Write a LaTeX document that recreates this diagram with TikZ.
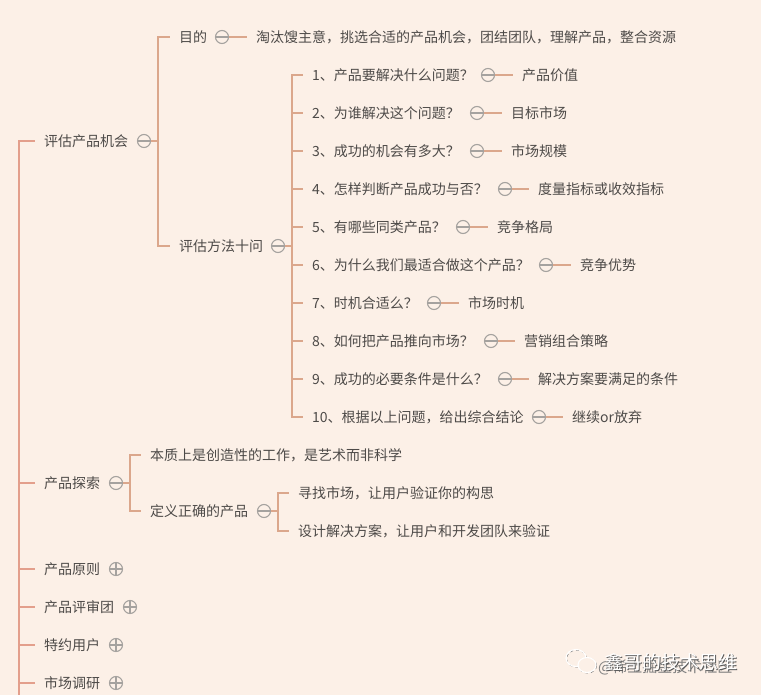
\documentclass[tikz,border=0pt]{standalone}
\usepackage{fontspec}
\usepackage{xcolor}
\setmainfont{Noto Sans CJK SC}
\definecolor{paper}{HTML}{FCF0E7}
\definecolor{inkgray}{HTML}{4D4A48}
\definecolor{togglegray}{HTML}{A5A29F}
\definecolor{rootline}{HTML}{E39F8C}
\definecolor{branchline}{HTML}{DBA78C}
\tikzset{
	topic/.style={anchor=west,inner xsep=9pt,inner ysep=0pt,text=inkgray,font=\fontsize{14}{14}\selectfont},
	minusbtn/.style={draw=togglegray,circle,line width=1.1pt,inner sep=0pt,minimum size=13pt,
		path picture={\draw[togglegray,line width=1.1pt](path picture bounding box.west)--(path picture bounding box.east);}},
	plusbtn/.style={draw=togglegray,circle,line width=1.1pt,inner sep=0pt,minimum size=13pt,
		path picture={\draw[togglegray,line width=1.1pt](path picture bounding box.west)--(path picture bounding box.east);
			\draw[togglegray,line width=1.1pt](path picture bounding box.north)--(path picture bounding box.south);}},
	rootedge/.style={rootline,line width=2pt},
	branchedge/.style={branchline,line width=2pt},
}
\begin{document}
\begin{tikzpicture}[x=1pt,y=-1pt]
	\fill[paper] (0,0) rectangle (761,695);
	\useasboundingbox (0,0) rectangle (761,695);

	% main trunk
	\coordinate (rootfork) at (19,141);
	\coordinate (rootend) at (19,695);
	\node[topic] (evalopp) at (35,141){评估产品机会};
	\node[topic] (explore) at (35,483){产品探索};
	\node[topic] (principle) at (35,569){产品原则};
	\node[topic] (review) at (35,607){产品评审团};
	\node[topic] (special) at (35,645){特约用户};
	\node[topic] (research) at (35,683){市场调研};
	\draw[rootedge] (rootend)--(rootfork)--(evalopp.west);
	\foreach \n in {explore,principle,review,special,research}{
		\draw[rootedge] (rootend |- \n.west)--(\n.west);
	}
	\node[plusbtn] (principlebtn) at (116,569){};
	\node[plusbtn] (reviewbtn) at (130,607){};
	\node[plusbtn] (specialbtn) at (116,645){};
	\node[plusbtn] (researchbtn) at (116,683){};

	% evaluate
	\node[minusbtn] (evaloppbtn) at (144,141){};
	\coordinate (evalfork) at (158,141);
	\node[topic] (goal) at (170,37){目的};
	\node[topic] (method) at (170,246){评估方法十问};
	\draw[branchedge] (evaloppbtn)--(evalfork);
	\draw[branchedge] (evalfork) |- (goal.west);
	\draw[branchedge] (evalfork) |- (method.west);

	\node[minusbtn] (goalbtn) at (222,37){};
	\node[topic] (goaltext) at (247,37){淘汰馊主意，挑选合适的产品机会，团结团队，理解产品，整合资源};
	\draw[branchedge] (goalbtn)--(goaltext.west);

	% ten questions
	\node[minusbtn] (methodbtn) at (278,246){};
	\coordinate (methodfork) at (292,246);
	\draw[branchedge] (methodbtn)--(methodfork);
	\foreach \i/\y/\q/\bx/\ax/\a in {
		1/75/1、产品要解决什么问题？/488/513/产品价值,
		2/113/2、为谁解决这个问题？/477/502/目标市场,
		3/151/3、成功的机会有多大？/477/502/市场规模,
		4/189/4、怎样判断产品成功与否？/505/529/度量指标或收效指标,
		5/227/5、有哪些同类产品？/463/488/竞争格局,
		6/265/6、为什么我们最适合做这个产品？/546/571/竞争优势,
		7/303/7、时机合适么？/434/459/市场时机,
		8/341/8、如何把产品推向市场？/491/515/营销组合策略,
		9/379/9、成功的必要条件是什么？/505/529/解决方案要满足的条件,
		10/417/10、根据以上问题，给出综合结论/539/563/继续or放弃}{
		\node[topic] (ask\i) at (303,\y){\q};
		\node[minusbtn] (askbtn\i) at (\bx,\y){};
		\node[topic] (answer\i) at (\ax,\y){\a};
		\draw[branchedge] (methodfork) |- (ask\i.west);
		\draw[branchedge] (askbtn\i)--(answer\i.west);
	}

	% explore
	\node[minusbtn] (explorebtn) at (116,483){};
	\coordinate (explorefork) at (130,483);
	\node[topic] (nature) at (141,455){本质上是创造性的工作，是艺术而非科学};
	\node[topic] (define) at (141,511){定义正确的产品};
	\draw[branchedge] (explorebtn)--(explorefork);
	\draw[branchedge] (explorefork) |- (nature.west);
	\draw[branchedge] (explorefork) |- (define.west);

	\node[minusbtn] (definebtn) at (264,511){};
	\coordinate (definefork) at (278,511);
	\node[topic] (market) at (289,493){寻找市场，让用户验证你的构思};
	\node[topic] (design) at (289,531){设计解决方案，让用户和开发团队来验证};
	\draw[branchedge] (definebtn)--(definefork);
	\draw[branchedge] (definefork) |- (market.west);
	\draw[branchedge] (definefork) |- (design.west);

	% watermark
	\draw[black!55,line width=0.7pt,dashed,xshift=0.6pt,yshift=-0.6pt] (576,658) ellipse (10pt and 8.5pt);
	\draw[white,line width=1.1pt] (576,658) ellipse (10pt and 8.5pt);
	\draw[black!55,line width=0.7pt,dashed,xshift=0.6pt,yshift=-0.6pt] (587,665) ellipse (9pt and 7.5pt);
	\draw[white,fill=paper,line width=1.1pt] (587,665) ellipse (9pt and 7.5pt);
	\node[anchor=west,inner sep=0pt,text=gray,font=\fontsize{15}{15}\selectfont] (juejin) at (598,667){@稀土掘金技术社区};
	\node[anchor=west,inner sep=0pt,text=black!65,font=\fontsize{19}{19}\selectfont] (shadowname) at (604.8,662.8){鑫哥的技术思维};
	\node[anchor=west,inner sep=0pt,text=white,font=\fontsize{19}{19}\selectfont] (wmname) at (604,662){鑫哥的技术思维};
\end{tikzpicture}
\end{document}
